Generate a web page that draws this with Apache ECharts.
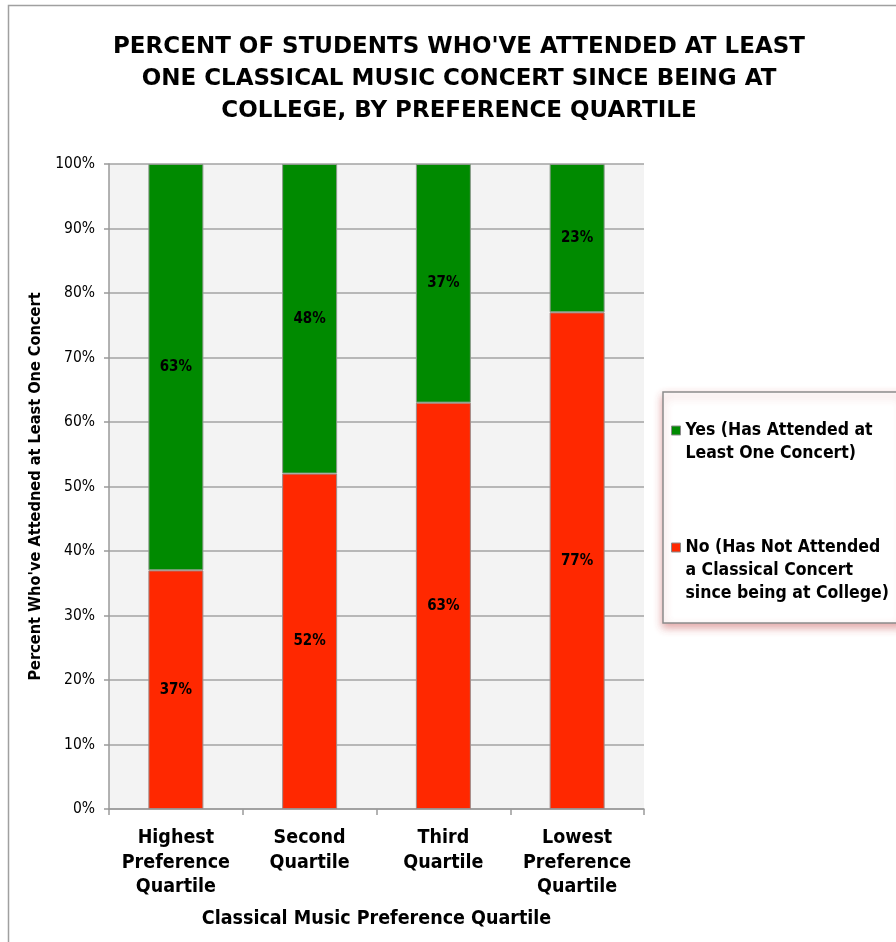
<!DOCTYPE html>
<html>
<head>
<meta charset="utf-8">
<script src="https://cdn.jsdelivr.net/npm/echarts@6/dist/echarts.min.js"></script>
<style>
  html, body { margin: 0; padding: 0; background: #ffffff; }
  #chart { width: 896px; height: 942px; }
</style>
</head>
<body>
<div id="chart"></div>
<script>
// Quartiles of classical-music preference
const categories = [
  'Highest\nPreference\nQuartile',
  'Second\nQuartile',
  'Third\nQuartile',
  'Lowest\nPreference\nQuartile'
];
// Percent of students in each quartile
const notAttended = [37, 52, 63, 77];
const attended = [63, 48, 37, 23];

const yesName = 'Yes (Has Attended at\nLeast One Concert)';
const noName = 'No (Has Not Attended\na Classical Concert\nsince being at College)';

const FONT = '"DejaVu Sans Condensed", "DejaVu Sans", sans-serif';
const TITLE_FONT = '"DejaVu Sans", sans-serif';
const LINE_H = 23;

const chart = echarts.init(document.getElementById('chart'), null, { renderer: 'canvas' });

const labelStyle = {
  show: true,
  position: 'inside',
  formatter: p => p.value + '%',
  color: '#000',
  fontFamily: FONT,
  fontWeight: 'bold',
  fontSize: 15
};

// Legend text hangs from the swatch: blank lines above each name push the
// centred text block down so its first line sits level with the swatch.
function legendLabel(name) {
  const lines = name.split('\n').length;
  return '\n'.repeat(lines - 1) + name;
}

chart.setOption({
  backgroundColor: '#ffffff',
  animation: false,
  title: {
    text: "PERCENT OF STUDENTS WHO'VE ATTENDED AT LEAST\nONE CLASSICAL MUSIC CONCERT SINCE BEING AT\nCOLLEGE, BY PREFERENCE QUARTILE",
    left: 459,
    top: 31,
    padding: 0,
    textAlign: 'center',
    textStyle: {
      fontFamily: TITLE_FONT,
      fontWeight: 'bold',
      fontSize: 23,
      lineHeight: 32,
      color: '#000'
    }
  },
  graphic: [{
    type: 'rect',
    silent: true,
    z: -10,
    shape: { x: 8.5, y: 5.5, width: 1000, height: 1000 },
    style: { fill: 'none', stroke: '#a0a0a0', lineWidth: 1.5 }
  }],
  grid: {
    left: 109,
    right: 252,
    top: 164,
    bottom: 133,
    show: true,
    backgroundColor: '#f3f3f3',
    borderWidth: 0
  },
  legend: {
    orient: 'vertical',
    left: 663,
    top: 392,
    padding: [4, 14, 18, 8],
    itemGap: 25,
    itemWidth: 9,
    itemHeight: 9,
    icon: 'rect',
    backgroundColor: '#ffffff',
    borderColor: '#8c8c8c',
    borderWidth: 1.5,
    shadowColor: 'rgba(190, 60, 60, 0.45)',
    shadowBlur: 8,
    shadowOffsetX: 0,
    shadowOffsetY: 4,
    itemStyle: { borderColor: '#8a8a8a', borderWidth: 1 },
    formatter: legendLabel,
    textStyle: {
      fontFamily: FONT,
      fontWeight: 'bold',
      fontSize: 17.5,
      lineHeight: LINE_H,
      color: '#000'
    },
    data: [yesName, noName]
  },
  xAxis: {
    type: 'category',
    data: categories,
    name: 'Classical Music Preference Quartile',
    nameLocation: 'middle',
    nameGap: 100,
    nameTextStyle: {
      fontFamily: FONT,
      fontWeight: 'bold',
      fontSize: 19.5,
      color: '#000'
    },
    axisLine: { show: true, lineStyle: { color: '#9a9a9a', width: 1.5 } },
    axisTick: { show: true, interval: 0, length: 6, lineStyle: { color: '#9a9a9a', width: 1.5 } },
    axisLabel: {
      interval: 0,
      hideOverlap: false,
      margin: 17,
      fontFamily: FONT,
      fontWeight: 'bold',
      fontSize: 19.5,
      lineHeight: 24.5,
      color: '#000'
    }
  },
  yAxis: {
    type: 'value',
    min: 0,
    max: 100,
    interval: 10,
    name: "Percent Who've Attedned at Least One Concert",
    nameLocation: 'middle',
    nameGap: 61,
    nameTextStyle: {
      fontFamily: FONT,
      fontWeight: 'bold',
      fontSize: 16.2,
      color: '#000'
    },
    axisLine: { show: true, lineStyle: { color: '#9a9a9a', width: 1.5 } },
    axisTick: { show: true, length: 5, lineStyle: { color: '#9a9a9a', width: 1.5 } },
    splitLine: { show: true, lineStyle: { color: '#a3a3a3', width: 1.5 } },
    axisLabel: {
      margin: 14,
      formatter: '{value}%',
      fontFamily: FONT,
      fontSize: 15.5,
      color: '#000'
    }
  },
  series: [
    {
      name: noName,
      type: 'bar',
      stack: 'total',
      barWidth: 55,
      data: notAttended,
      itemStyle: { color: '#ff2800', borderColor: '#a08a88', borderWidth: 1 },
      label: labelStyle
    },
    {
      name: yesName,
      type: 'bar',
      stack: 'total',
      barWidth: 55,
      data: attended,
      itemStyle: { color: '#008a00', borderColor: '#8a9a8a', borderWidth: 1 },
      label: labelStyle
    }
  ]
});
</script>
</body>
</html>
